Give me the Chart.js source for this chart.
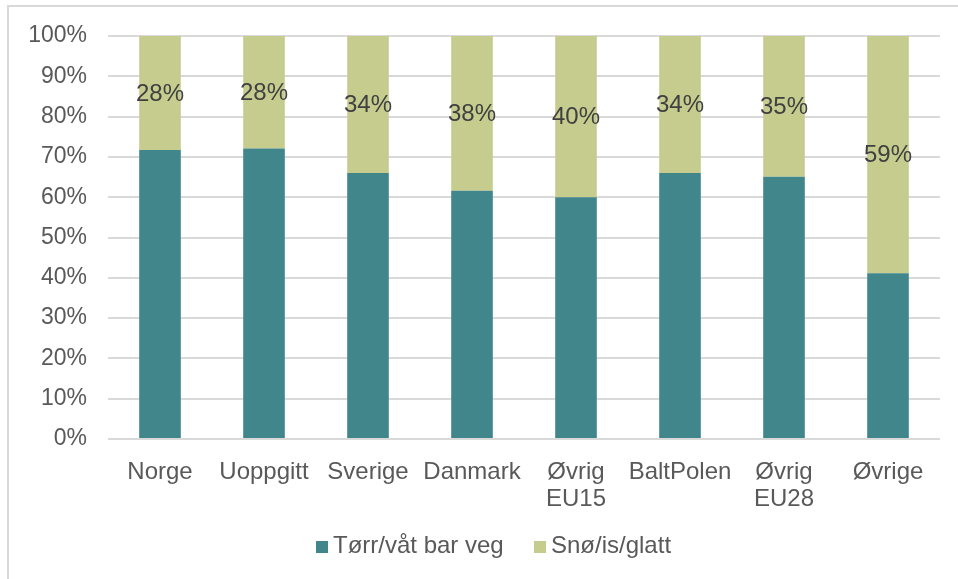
<!DOCTYPE html>
<html>
<head>
<meta charset="utf-8">
<script src="https://cdn.jsdelivr.net/npm/chart.js@4/dist/chart.umd.min.js"></script>
<style>
  html, body { margin: 0; padding: 0; background: #fff; }
  #wrap { position: relative; width: 958px; height: 579px; overflow: hidden; }
  #frame {
    position: absolute; left: 7px; top: 5px; width: 1000px; height: 700px;
    border-top: 2px solid #d9d9d9; border-left: 2px solid #d9d9d9;
    box-sizing: border-box;
  }
  #chart { position: absolute; left: 0; top: 0; }
  .legend {
    position: absolute; top: 531px; height: 30px; line-height: 30px;
    font: 24px "Liberation Sans", Arial, sans-serif; color: #595959;
    white-space: nowrap;
  }
  .legend span.box {
    position: absolute; left: 0; top: 10px; width: 12px; height: 12px;
  }
  .legend span.txt { position: absolute; left: 17px; top: 0; }
</style>
</head>
<body>
<div id="wrap">
  <div id="frame"></div>
  <canvas id="chart" width="958" height="579"></canvas>
  <div class="legend" style="left:316px"><span class="box" style="background:#40868a"></span><span class="txt">Tørr/våt bar veg</span></div>
  <div class="legend" style="left:534px"><span class="box" style="background:#c6cc8e"></span><span class="txt">Snø/is/glatt</span></div>
</div>
<script>
"use strict";

/* ── Data ───────────────────────────────────────────── */
const categories = ["Norge", "Uoppgitt", "Sverige", "Danmark", ["Øvrig", "EU15"], "BaltPolen", ["Øvrig", "EU28"], "Øvrige"];
const seriesNames = ["Tørr/våt bar veg", "Snø/is/glatt"];
const dryWet   = [71.7, 72.1, 66.0, 61.6, 60.0, 66.0, 65.1, 41.1];
const snowIce  = [28.3, 27.9, 34.0, 38.4, 40.0, 34.0, 34.9, 58.9];
const yTicks   = [0, 10, 20, 30, 40, 50, 60, 70, 80, 90, 100];

const FONT = "'Liberation Sans', Arial, sans-serif";
const TEAL = "#40868a";
const GREEN = "#c6cc8e";

/* ── Plugin: etiquetas del segmento superior ────────── */
const segLabels = {
  id: "segLabels",
  afterDatasetsDraw(chart) {
    const { ctx } = chart;
    const meta = chart.getDatasetMeta(1);
    ctx.save();
    ctx.font = "24px " + FONT;
    ctx.fillStyle = "#404040";
    ctx.textAlign = "center";
    ctx.textBaseline = "middle";
    meta.data.forEach((bar, i) => {
      const y = (bar.y + bar.base) / 2;
      ctx.fillText(Math.round(snowIce[i]) + "%", bar.x, y + 1);
    });
    ctx.restore();
  }
};

new Chart(document.getElementById("chart"), {
  type: "bar",
  plugins: [segLabels],
  data: {
    labels: categories,
    datasets: [
      { label: seriesNames[0], data: dryWet,  backgroundColor: TEAL,  barPercentage: 0.4, categoryPercentage: 1.0 },
      { label: seriesNames[1], data: snowIce, backgroundColor: GREEN, barPercentage: 0.4, categoryPercentage: 1.0 },
    ]
  },
  options: {
    responsive: false,
    animation: false,
    layout: { padding: { top: 36, right: 18, bottom: 50, left: 0 } },
    scales: {
      x: {
        stacked: true,
        grid: { display: false },
        border: { display: false },
        afterFit: s => { s.height = 90; },
        ticks: {
          color: "#595959",
          padding: 12,
          maxRotation: 0,
          autoSkip: false,
          font: { family: FONT, size: 24, lineHeight: 1.13 },
        },
      },
      y: {
        stacked: true,
        min: 0, max: 100,
        afterFit: s => { s.width = 108; },
        afterBuildTicks: s => { s.ticks = yTicks.map(v => ({ value: v })); },
        grid: { color: "#d9d9d9", lineWidth: 2, drawTicks: false },
        border: { display: false },
        ticks: {
          color: "#595959",
          padding: 21,
          font: { family: FONT, size: 23 },
          callback: v => v + "%",
        },
      }
    },
    plugins: {
      legend: { display: false },
      tooltip: { enabled: false },
    },
  }
});
</script>
</body>
</html>
